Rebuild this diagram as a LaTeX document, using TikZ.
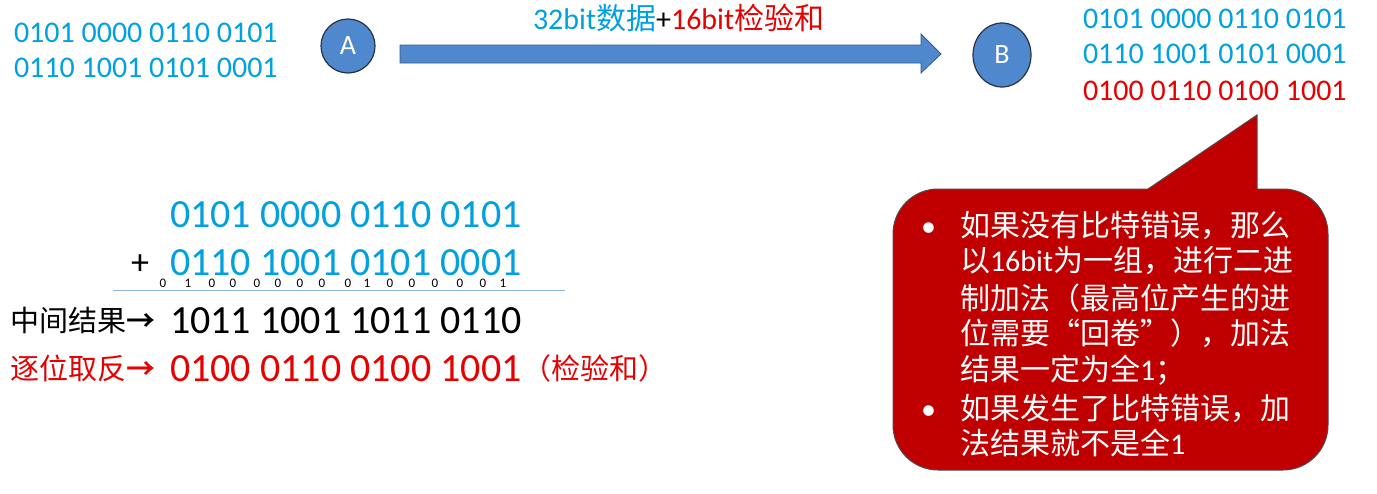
\documentclass[tikz,border=0pt]{standalone}
\usepackage{fontspec}
\setmainfont{Carlito}
\newfontfamily\cjk{Noto Sans CJK SC}
\newfontfamily\cjkbold{Noto Sans CJK SC Bold}
\usetikzlibrary{shapes.geometric}
\definecolor{cblue}{RGB}{0,160,225}
\definecolor{cred}{RGB}{230,0,0}
\definecolor{nodeblue}{RGB}{79,136,204}
\definecolor{nodeedge}{RGB}{38,50,72}
\definecolor{arrowedge}{RGB}{55,90,140}
\definecolor{calloutred}{RGB}{192,0,0}
\definecolor{calloutedge}{RGB}{85,70,75}
\definecolor{rulecol}{RGB}{140,180,220}
\tikzset{
  txt/.style={anchor=base west, inner sep=0pt, outer sep=0pt},
  small/.style={txt, font=\fontsize{30}{36}\selectfont},
  big/.style={txt, font=\fontsize{40}{48}\selectfont, text depth=0pt},
  cn/.style={txt, font=\fontsize{29}{35}\selectfont\cjk},
  carry/.style={anchor=base, inner sep=0pt, font=\fontsize{13}{15}\selectfont, text height=8pt},
  station/.style={fill=nodeblue, draw=nodeedge, line width=1.2pt, text=white,
    font=\fontsize{28}{32}\selectfont, inner sep=0pt},
  bubbletxt/.style={txt, text=white, font=\fontsize{30}{36}\selectfont},
}
\begin{document}
\begin{tikzpicture}[x=1pt,y=-1pt]
\useasboundingbox (0,0) rectangle (1377,493);
% top-left data
\node[small, text=cblue] (a1) at (14,42) {0101 0000 0110 0101};
\node[small, text=cblue] (a2) at (14,77) {0110 1001 0101 0001};
% hosts
\node[station, circle, minimum size=54pt] (A) at (348,46) {A};
\node[station, ellipse, minimum width=58pt, minimum height=64pt] (B) at (1002,55) {B};
% block arrow
\coordinate (tail) at (400,54);
\coordinate (tip) at (941,54);
\draw[fill=nodeblue, draw=arrowedge, line width=0.8pt]
  (tail |- 0,45) -- (921,45) -- (921,34) -- (tip) -- (921,73) -- (921,63) -- (tail |- 0,63) -- cycle;
\node[txt, font=\fontsize{30}{36}\selectfont] (lbl) at (533,29)
  {\textcolor{cblue}{32bit{\cjk 数据}}+\textcolor{cred}{16bit{\cjk 检验和}}};
% right data
\node[small, text=cblue] (b1) at (1083,28) {0101 0000 0110 0101};
\node[small, text=cblue] (b2) at (1083,63) {0110 1001 0101 0001};
\node[small, text=cred] (b3) at (1083,100) {0100 0110 0100 1001};
% addition
\node[big, text=cblue] (s1) at (170,227) {0101 0000 0110 0101};
\node[big, text=cblue] (s2) at (170,275) {0110 1001 0101 0001};
\node[txt, font=\fontsize{36}{40}\selectfont, text depth=0pt] (plus) at (131,274) {+};
\foreach \x/\d [count=\i] in {163/0,188/1,212/0,233/0,257/0,278/0,300/0,322/0,348/0,367/1,390/0,412/0,435/0,460/0,483/0,503/1}
  \node[carry] (c\i) at (\x,287) {\d};
\coordinate (r1) at (113,290);
\coordinate (r2) at (565,290);
\draw[rulecol, line width=1pt] (r1) -- (r2);
% results
\node[cn] (m1) at (10,331) {中间结果{\cjkbold →}};
\node[big] (m2) at (170,333) {1011 1001 1011 0110};
\node[cn, text=cred] (n1) at (10,379) {逐位取反{\cjkbold →}};
\node[big, text=cred] (n2) at (170,381) {0100 0110 0100 1001};
\node[cn, text=cred] (n3) at (522,379) {（检验和）};
% callout
\node[draw=calloutedge, fill=calloutred, line width=1pt, rounded corners=45pt,
  minimum width=435pt, minimum height=281pt, inner sep=0pt] (bubble) at (1110.5,329.5) {};
\fill[calloutred] (1145,191) -- (1148,189) -- (1257,115) -- (1257,191) -- cycle;
\draw[calloutedge, line width=1pt] (1148,189) -- (1257,115) -- (1257,189);
\node[bubbletxt] (p1) at (921,236) {•};
\node[bubbletxt] (p6) at (921,419) {•};
\node[bubbletxt] (t1) at (960,236) {\cjk 如果没有比特错误，那么};
\node[bubbletxt] (t2) at (960,271) {{\cjk 以}16bit{\cjk 为一组，进行二进}};
\node[bubbletxt] (t3) at (960,309) {\cjk 制加法（最高位产生的进};
\node[bubbletxt] (t4) at (960,344) {\cjk 位需要“回卷”），加法};
\node[bubbletxt] (t5) at (960,380) {{\cjk 结果一定为全}1{\cjk ；}};
\node[bubbletxt] (t6) at (960,419) {\cjk 如果发生了比特错误，加};
\node[bubbletxt] (t7) at (960,454) {{\cjk 法结果就不是全}1};
\end{tikzpicture}
\end{document}
